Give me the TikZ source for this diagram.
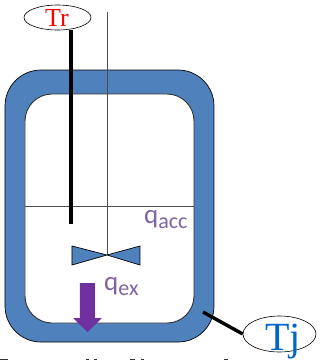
\documentclass[tikz,border=0pt]{standalone}
\usepackage{fontspec}
\setmainfont{Liberation Serif}
\setsansfont{Carlito}
\usetikzlibrary{shapes.geometric}
\definecolor{jacket}{RGB}{79,129,189}
\definecolor{violetq}{RGB}{128,100,162}
\definecolor{arrowv}{RGB}{112,48,160}
\definecolor{tjblue}{RGB}{0,102,204}
\tikzset{
  vessel/.style={draw=black,line width=0.7pt,fill=jacket,rounded corners=36pt},
  inner/.style={draw=black!80,line width=0.9pt,fill=white,rounded corners=27pt},
  thinline/.style={draw=black!70,line width=0.6pt},
  probe/.style={draw=black,line width=4pt},
  tag/.style={draw=black,line width=0.6pt,fill=white,ellipse,inner sep=0pt},
  qlabel/.style={font=\sffamily,text=violetq,inner sep=0pt,anchor=base west},
}
\newcommand{\qsym}[1]{\fontsize{27}{27}\selectfont q\fontsize{22}{22}\selectfont\raisebox{-5pt}{#1}}
\begin{document}
\begin{tikzpicture}[x=1pt,y=-1pt]
\useasboundingbox (0,0) rectangle (320,360);
\path[vessel] (5,70) rectangle (214,342);
\path[inner] (25,94) rectangle (194,323);
\coordinate (shafttop) at (107,12);
\coordinate (hub) at (107,255);
\coordinate (levelL) at (25,206);
\coordinate (levelR) at (194,206);
\draw[thinline] (shafttop) -- (hub);
\draw[thinline] (levelL) -- (levelR);
\draw[black,line width=0.7pt,fill=jacket] (72,246) -- (107,255) -- (140,246) -- (140,265) -- (107,255) -- (72,265) -- cycle;
\node[tag,minimum width=67pt,minimum height=25pt] (tr) at (57.5,17.5) {};
\node[text=red,font=\fontsize{26}{26}\selectfont,inner sep=0pt,anchor=base] (trtext) at (57,26) {Tr};
\coordinate (trend) at (71.5,224);
\draw[probe] (tr.south -| trend) -- (trend);
\fill[arrowv] (80,283) -- (95,283) -- (95,318) -- (102,318) -- (87.5,332) -- (73,318) -- (80,318) -- cycle;
\node[qlabel] (qacc) at (144,223) {\qsym{acc}};
\node[qlabel] (qex) at (104,290) {\qsym{ex}};
\node[tag,minimum width=73pt,minimum height=36pt] (tj) at (279.5,334) {};
\node[text=tjblue,font=\fontsize{40}{40}\selectfont,inner sep=0pt,anchor=base] (tjtext) at (283,350) {Tj};
\coordinate (tjstart) at (203,312);
\draw[black,line width=3.4pt] (tjstart) -- (tj.west);
\fill[black!80] (0,359) rectangle (8,360);
\fill[black!80] (86,359) rectangle (89,360);
\fill[black!80] (94,359) rectangle (97,360);
\fill[black!80] (130,359.2) rectangle (135,360);
\fill[black!80] (141,359) rectangle (144,360);
\fill[black!80] (224,359.2) rectangle (228,360);
\end{tikzpicture}
\end{document}
